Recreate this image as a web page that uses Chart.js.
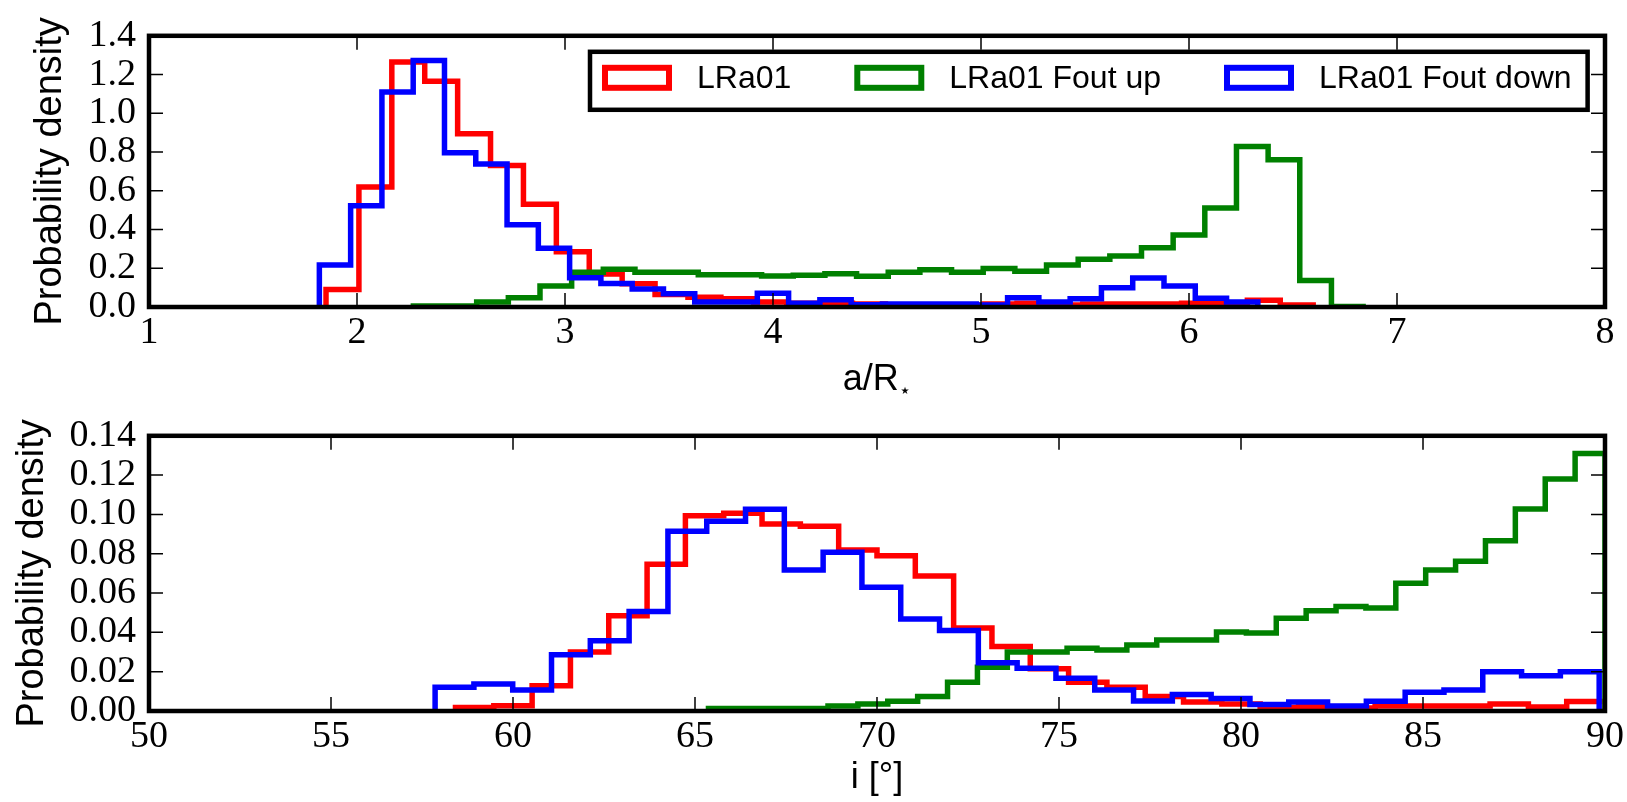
<!DOCTYPE html>
<html>
<head>
<meta charset="utf-8">
<script src="https://cdn.jsdelivr.net/npm/chart.js@4.4.1/dist/chart.umd.min.js"></script>
<style>
  html, body { margin: 0; padding: 0; background: #fff; }
  .panel { position: absolute; left: 0; width: 1627px; }
  #topPanel { top: 0; height: 400px; }
  #bottomPanel { top: 400px; height: 402px; }
</style>
</head>
<body>
<div class="panel" id="topPanel"><canvas id="chartA"></canvas></div>
<div class="panel" id="bottomPanel"><canvas id="chartI"></canvas></div>
<script>
// 图例名称
const seriesLabels = ['LRa01', 'LRa01 Fout up', 'LRa01 Fout down'];
const seriesColors = ['#ff0000', '#008000', '#0000ff'];

// 上图 a/R*：每个直方图 = 起点 + 箱宽 + 密度值
const aRedStart = 1.851, aRedWidth = 0.1582;
const aRedValues = [0.09, 0.62, 1.265, 1.165, 0.895, 0.73, 0.53, 0.285, 0.17, 0.12,
  0.065, 0.05, 0.043, 0.026, 0.02, 0.02, 0.015, 0.01, 0.01, 0.01,
  0.015, 0.02, 0.01, 0.015, 0.015, 0.015, 0.02, 0.02, 0.035, 0.01];
const aGreenStart = 2.271, aGreenWidth = 0.1522;
const aGreenValues = [0.005, 0.005, 0.026, 0.048, 0.109, 0.18, 0.195, 0.18, 0.18, 0.167,
  0.167, 0.16, 0.164, 0.172, 0.159, 0.18, 0.192, 0.18, 0.199, 0.184,
  0.217, 0.247, 0.263, 0.306, 0.372, 0.511, 0.829, 0.76, 0.137, 0.003];
const aBlueStart = 1.819, aBlueWidth = 0.1504;
const aBlueValues = [0.217, 0.523, 1.11, 1.273, 0.796, 0.738, 0.424, 0.303, 0.151, 0.121,
  0.093, 0.068, 0.026, 0.026, 0.071, 0.02, 0.038, 0.012, 0.015, 0.015,
  0.015, 0.01, 0.048, 0.026, 0.043, 0.10, 0.15, 0.109, 0.045, 0.026];

// 下图 i [°]
const iRedStart = 58.42, iRedWidth = 1.0527;
const iRedValues = [0.0018, 0.0027, 0.0129, 0.030, 0.0485, 0.0746, 0.0993, 0.1006, 0.0951, 0.094,
  0.0819, 0.079, 0.0687, 0.0422, 0.0328, 0.0215, 0.0146, 0.0121, 0.0074, 0.0046,
  0.0035, 0.0018, 0.0022, 0.0015, 0.0025, 0.0025, 0.0025, 0.0035, 0.002, 0.0048];
const iGreenStart = 65.37, iGreenWidth = 0.821;
const iGreenValues = [0.0013, 0.0013, 0.0013, 0.0013, 0.0025, 0.0035, 0.005, 0.0074, 0.0146, 0.0223,
  0.030, 0.030, 0.0319, 0.031, 0.0336, 0.0361, 0.0361, 0.0402, 0.0397, 0.0472,
  0.051, 0.0531, 0.0524, 0.065, 0.0717, 0.0762, 0.0866, 0.1028, 0.118, 0.131];
const iBlueStart = 57.86, iBlueWidth = 1.066;
const iBlueValues = [0.0121, 0.0137, 0.0107, 0.0286, 0.0357, 0.0506, 0.0915, 0.0965, 0.1026, 0.0717,
  0.0808, 0.0629, 0.0468, 0.041, 0.0245, 0.0217, 0.0167, 0.0107, 0.0051, 0.0084,
  0.0063, 0.0033, 0.0046, 0.0025, 0.005, 0.0096, 0.0107, 0.02, 0.0179, 0.02];

// 坐标轴范围
const aXRange = [1, 8], aXStep = 1, aYMax = 1.4, aYStep = 0.2;
const iXRange = [50, 90], iXStep = 5, iYMax = 0.14, iYStep = 0.02;

const SANS = '"Liberation Sans", Arial, sans-serif';
const SERIF = '"Liberation Serif", "Times New Roman", serif';

// 阶梯直方图的轮廓点（matplotlib histtype='step' 的样子）
function histPoints(start, width, values) {
  const pts = [{ x: start, y: 0 }];
  values.forEach((v, i) => pts.push({ x: start + i * width, y: v }));
  pts.push({ x: start + values.length * width, y: 0 });
  return pts;
}

function histDataset(idx, start, width, values, order) {
  return {
    label: seriesLabels[idx],
    data: histPoints(start, width, values),
    borderColor: seriesColors[idx],
    backgroundColor: seriesColors[idx],
    borderWidth: 5.5,
    pointRadius: 0,
    pointHoverRadius: 0,
    stepped: 'before',
    fill: false,
    tension: 0,
    order: order,
    borderJoinStyle: 'miter',
    borderCapStyle: 'butt'
  };
}

// 粗边框 + 四边朝内的刻度
const framePlugin = {
  id: 'frame',
  afterDatasetsDraw(chart) {
    const { ctx, chartArea: a, scales } = chart;
    const len = 14;
    ctx.save();
    ctx.strokeStyle = '#000';
    ctx.lineWidth = 1.5;
    ctx.beginPath();
    scales.x.ticks.forEach(t => {
      const px = scales.x.getPixelForValue(t.value);
      ctx.moveTo(px, a.bottom); ctx.lineTo(px, a.bottom - len);
      ctx.moveTo(px, a.top); ctx.lineTo(px, a.top + len);
    });
    scales.y.ticks.forEach(t => {
      const py = scales.y.getPixelForValue(t.value);
      ctx.moveTo(a.left, py); ctx.lineTo(a.left + len, py);
      ctx.moveTo(a.right, py); ctx.lineTo(a.right - len, py);
    });
    ctx.stroke();
    ctx.lineWidth = 4.5;
    ctx.strokeRect(a.left, a.top, a.right - a.left, a.bottom - a.top);
    ctx.restore();
  }
};

// 上图右上角带框图例
const boxLegendPlugin = {
  id: 'boxLegend',
  afterDraw(chart) {
    const { ctx, chartArea: a } = chart;
    const sets = chart.data.datasets;
    const sw = 70, sh = 26, gapText = 25, gapItem = 63, padL = 12, padR = 16;
    const boxL = a.left + 441, boxT = a.top + 16, boxH = 58;
    ctx.save();
    ctx.font = '32px ' + SANS;
    ctx.textBaseline = 'middle';
    let w = padL;
    sets.forEach((d, i) => {
      w += sw + gapText + ctx.measureText(d.label).width + (i < sets.length - 1 ? gapItem : padR);
    });
    ctx.fillStyle = '#fff';
    ctx.fillRect(boxL, boxT, w, boxH);
    ctx.lineWidth = 4.5;
    ctx.strokeStyle = '#000';
    ctx.strokeRect(boxL, boxT, w, boxH);
    const cy = boxT + 26;
    let x = boxL + padL;
    sets.forEach(d => {
      ctx.lineWidth = 6;
      ctx.strokeStyle = d.borderColor;
      ctx.strokeRect(x + 3, cy - sh / 2 + 3, sw - 6, sh - 6);
      x += sw + gapText;
      ctx.fillStyle = '#000';
      ctx.fillText(d.label, x, cy + 1);
      x += ctx.measureText(d.label).width + gapItem;
    });
    ctx.restore();
  }
};

// a/R⋆ 标题（下标星号）
const aTitlePlugin = {
  id: 'aTitle',
  afterDraw(chart) {
    const { ctx, chartArea: a } = chart;
    const main = 'a/R', sub = '\u22C6';
    ctx.save();
    ctx.fillStyle = '#000';
    ctx.textBaseline = 'alphabetic';
    ctx.font = '36px ' + SANS;
    const w1 = ctx.measureText(main).width;
    ctx.font = '20px "DejaVu Sans", sans-serif';
    const w2 = ctx.measureText(sub).width;
    const x0 = (a.left + a.right) / 2 - (w1 + w2) / 2;
    const base = a.bottom + 83;
    ctx.font = '36px ' + SANS;
    ctx.fillText(main, x0, base);
    ctx.font = '20px "DejaVu Sans", sans-serif';
    ctx.fillText(sub, x0 + w1, base + 7);
    ctx.restore();
  }
};

function makeOptions(cfg) {
  return {
    responsive: true,
    maintainAspectRatio: false,
    animation: false,
    events: [],
    layout: { padding: { top: cfg.padTop, right: 22, left: 0, bottom: 0 } },
    plugins: { legend: { display: false }, tooltip: { enabled: false } },
    scales: {
      x: {
        type: 'linear',
        min: cfg.xRange[0],
        max: cfg.xRange[1],
        grid: { display: false, drawTicks: false },
        border: { display: false },
        ticks: {
          stepSize: cfg.xStep,
          autoSkip: false,
          maxRotation: 0,
          padding: 3,
          color: '#000',
          font: { family: SERIF, size: 38 },
          callback: v => String(v)
        },
        title: {
          display: !!cfg.xTitle,
          text: cfg.xTitle || '',
          color: '#000',
          font: { family: SANS, size: 36 },
          padding: { top: 0, bottom: 2 }
        },
        afterFit(scale) { scale.height = cfg.xHeight; }
      },
      y: {
        min: 0,
        max: cfg.yMax,
        grid: { display: false, drawTicks: false },
        border: { display: false },
        ticks: {
          stepSize: cfg.yStep,
          autoSkip: false,
          padding: 13,
          color: '#000',
          font: { family: SERIF, size: 38 },
          callback: v => v.toFixed(cfg.yDecimals)
        },
        title: {
          display: true,
          text: 'Probability density',
          color: '#000',
          font: { family: SANS, size: 38 },
          padding: { top: cfg.yTitlePad, bottom: 0 }
        },
        afterFit(scale) { scale.width = 149; }
      }
    }
  };
}

new Chart(document.getElementById('chartA'), {
  type: 'line',
  data: {
    datasets: [
      histDataset(0, aRedStart, aRedWidth, aRedValues, 3),
      histDataset(1, aGreenStart, aGreenWidth, aGreenValues, 2),
      histDataset(2, aBlueStart, aBlueWidth, aBlueValues, 1)
    ]
  },
  options: makeOptions({
    xRange: aXRange, xStep: aXStep, yMax: aYMax, yStep: aYStep, yDecimals: 1,
    padTop: 25, xHeight: 93, yTitlePad: 28, xTitle: null
  }),
  plugins: [framePlugin, boxLegendPlugin, aTitlePlugin]
});

new Chart(document.getElementById('chartI'), {
  type: 'line',
  data: {
    datasets: [
      histDataset(0, iRedStart, iRedWidth, iRedValues, 3),
      histDataset(1, iGreenStart, iGreenWidth, iGreenValues, 2),
      histDataset(2, iBlueStart, iBlueWidth, iBlueValues, 1)
    ]
  },
  options: makeOptions({
    xRange: iXRange, xStep: iXStep, yMax: iYMax, yStep: iYStep, yDecimals: 2,
    padTop: 29, xHeight: 91, yTitlePad: 10, xTitle: 'i [\u00B0]'
  }),
  plugins: [framePlugin]
});
</script>
</body>
</html>
